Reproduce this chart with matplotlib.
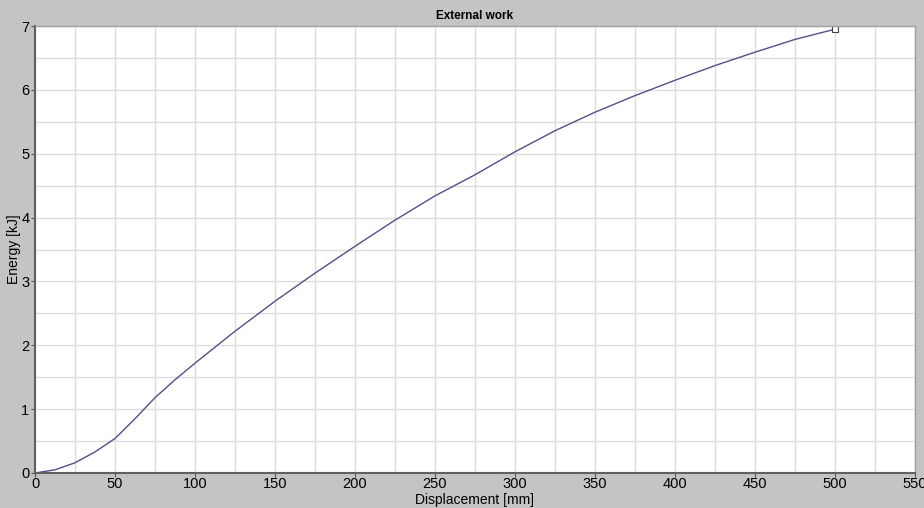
import numpy as np
import matplotlib
matplotlib.use("Agg")
import matplotlib.pyplot as plt

# displacement [mm] vs external work [kJ]
displacement = [0, 12.5, 25, 37.5, 50, 62.5, 75, 87.5, 100, 125, 150, 175, 200,
                225, 250, 275, 300, 325, 350, 375, 400, 425, 450, 475, 500]
energy = [0.0, 0.05, 0.16, 0.33, 0.54, 0.85, 1.18, 1.46, 1.72, 2.22, 2.69, 3.13, 3.55,
          3.96, 4.34, 4.67, 5.03, 5.36, 5.65, 5.91, 6.15, 6.38, 6.59, 6.79, 6.95]

x_ticks = list(range(0, 551, 50))
y_ticks = list(range(0, 8))

plt.rcParams['font.family'] = ['Liberation Sans', 'DejaVu Sans']

fig = plt.figure(figsize=(9.24, 5.08), dpi=100, facecolor='#c4c4c4')
ax = fig.add_axes([35 / 924, 35 / 508, 880 / 924, 447 / 508])
ax.set_facecolor('white')

ax.plot(displacement, energy, color='#50508a', linewidth=1.0)
ax.plot(displacement[-1], energy[-1], marker='s', markersize=5,
        markerfacecolor='white', markeredgecolor='#404040', markeredgewidth=0.8)

ax.set_xlim(0, 550)
ax.set_ylim(0, 7)
ax.set_xticks(x_ticks)
ax.set_yticks(y_ticks)
ax.set_xticks(np.arange(0, 551, 25), minor=True)
ax.set_yticks(np.arange(0, 7.01, 0.5), minor=True)
ax.grid(which='both', color='#dcdcdc', linewidth=1.0)
ax.set_axisbelow(True)

ax.tick_params(which='major', length=3, width=0.8, color='#555555', labelsize=10.5,
               pad=1)
ax.tick_params(which='minor', length=0)
ax.tick_params(axis='x', pad=0)

for side in ['left', 'bottom']:
    ax.spines[side].set_color('#606060')
    ax.spines[side].set_linewidth(1.5)
for side in ['top', 'right']:
    ax.spines[side].set_color('#a0a0a0')
    ax.spines[side].set_linewidth(1.0)

ax.set_xlabel('Displacement [mm]', fontsize=10, labelpad=1)
ax.set_ylabel('Energy [kJ]', fontsize=10, labelpad=0)
ax.set_title('External work', fontsize=8.5, fontweight='bold', pad=5)

fig.savefig('out.png', dpi=100, facecolor=fig.get_facecolor())
